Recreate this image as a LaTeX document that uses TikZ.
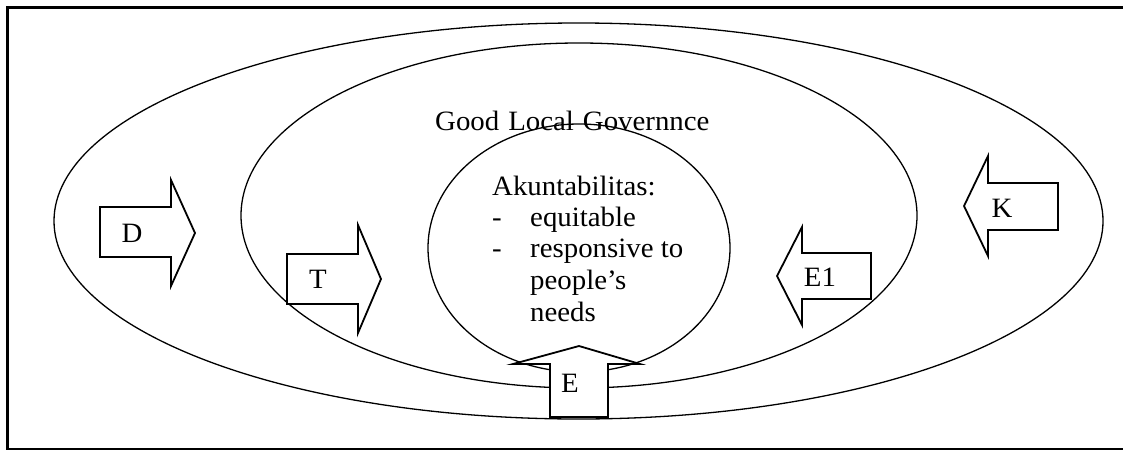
\documentclass[tikz,border=0pt]{standalone}
\usepackage{fontspec}
\setmainfont{Liberation Serif}[FakeStretch=1.03]
\begin{document}
\begin{tikzpicture}[x=1pt,y=-1pt,
  ring/.style={line width=1.3pt},
  blockarrow/.style={draw,fill=white,line width=1.8pt,line join=miter},
  lbl/.style={font=\fontsize{28}{33}\selectfont,inner sep=0pt},
  txt/.style={font=\fontsize{28}{33}\selectfont,inner sep=0pt,anchor=base west}]
\useasboundingbox (0,0) rectangle (1123,450);
% frame
\draw[line width=3.2pt] (1123,7.6) -- (7.6,7.6) -- (7.6,450);
\draw[line width=1.8pt] (6,449) -- (1123,449);
% ellipses
\draw[ring] (578.5,221) ellipse [x radius=524.5, y radius=198];
\draw[ring] (579,215.5) ellipse [x radius=338, y radius=172.5];
\node[txt] (glg) at (435,130.5) {Good\hspace{9pt}Local\hspace{9pt}Governnce};
\draw[ring] (579,248) ellipse [x radius=151, y radius=124];
% list text
\node[txt] (akt) at (492,195) {Akuntabilitas:};
\node[txt] (d1) at (492,226) {-};
\node[txt] (i1) at (530,226) {equitable};
\node[txt] (d2) at (492,257) {-};
\node[txt] (i2) at (530,257) {responsive to};
\node[txt] (i3) at (530,289) {people’s};
\node[txt] (i4) at (530,321) {needs};
% block arrows
\draw[blockarrow] (100,207) -- (171,207) -- (171,180) -- (195,233) -- (171,286) -- (171,257) -- (100,257) -- cycle;
\node[lbl] (D) at (132,233) {D};
\draw[blockarrow] (287,254) -- (358,254) -- (358,225) -- (381,279) -- (358,333) -- (358,304) -- (287,304) -- cycle;
\node[lbl] (T) at (318,279) {T};
\draw[blockarrow] (871,253) -- (802,253) -- (802,227) -- (777,276) -- (802,325) -- (802,299) -- (871,299) -- cycle;
\node[lbl] (E1) at (820,277) {E1};
\draw[blockarrow] (1058,183) -- (988,183) -- (988,156) -- (964,206) -- (988,256) -- (988,230) -- (1058,230) -- cycle;
\node[lbl] (K) at (1002,208) {K};
\draw[blockarrow] (550,417) -- (550,364) -- (513,364) -- (579,346) -- (640,364) -- (608,364) -- (608,417) -- cycle;
\node[lbl] (E) at (570,383) {E};
\end{tikzpicture}
\end{document}
